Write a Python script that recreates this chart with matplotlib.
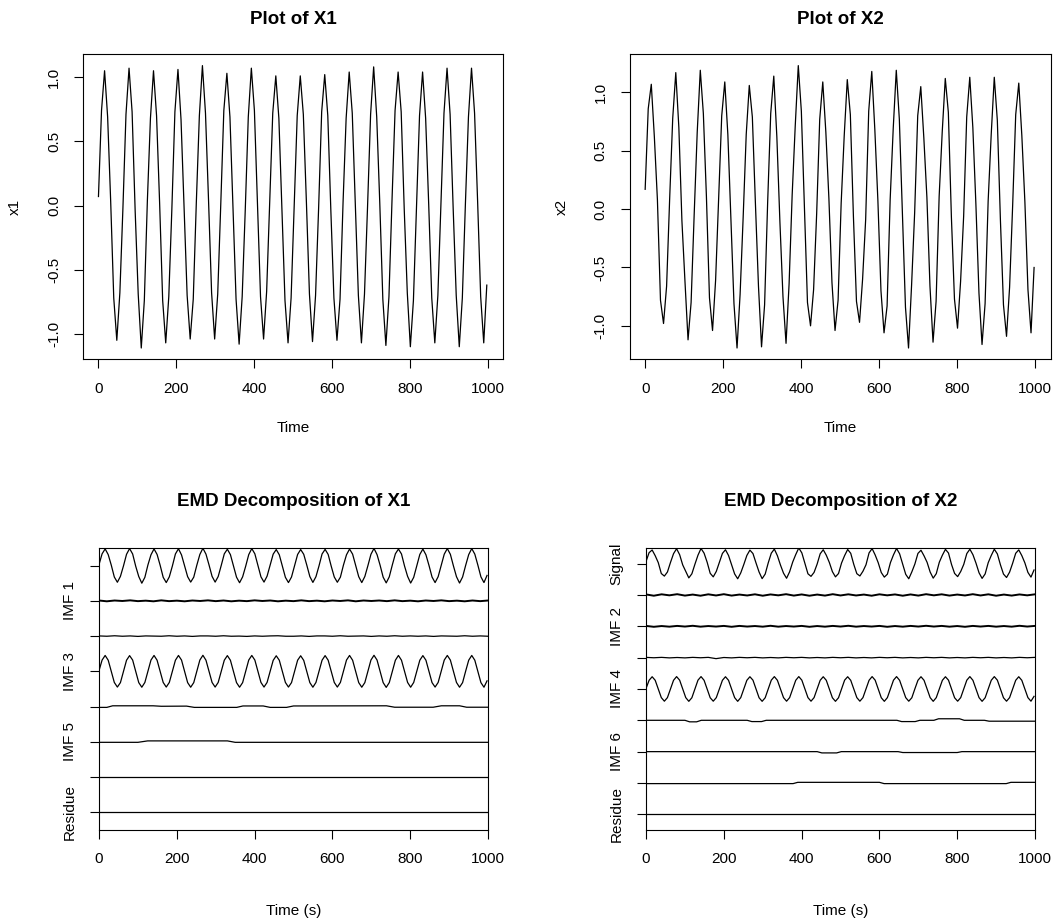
import numpy as np
import matplotlib.pyplot as plt

plt.rcParams['font.family'] = ['Liberation Sans', 'DejaVu Sans']

# ---- data ----
# the two signals, one value every 7.854 time units (8 per cycle)
x1 = [
    0.07, 0.74, 1.05, 0.69, 0.03, -0.72, -1.05, -0.68,
    -0.02, 0.71, 1.07, 0.73, -0.04, -0.69, -1.11, -0.74,
    0.04, 0.68, 1.05, 0.70, 0.02, -0.74, -1.07, -0.71,
    -0.03, 0.73, 1.06, 0.67, -0.01, -0.70, -1.04, -0.73,
    0.02, 0.70, 1.09, 0.72, 0.04, -0.68, -1.04, -0.69,
    0.01, 0.74, 1.03, 0.69, -0.03, -0.73, -1.08, -0.71,
    -0.04, 0.69, 1.07, 0.74, 0.02, -0.71, -1.04, -0.67,
    0.03, 0.72, 1.01, 0.68, -0.02, -0.74, -1.07, -0.72,
    0.00, 0.70, 1.01, 0.71, 0.03, -0.69, -1.06, -0.70,
    -0.02, 0.73, 1.02, 0.70, -0.04, -0.72, -1.05, -0.73,
    0.03, 0.68, 1.04, 0.72, 0.01, -0.70, -1.07, -0.69,
    -0.01, 0.71, 1.08, 0.69, 0.02, -0.73, -1.09, -0.71,
    0.04, 0.74, 1.04, 0.73, -0.03, -0.68, -1.10, -0.74,
    -0.03, 0.70, 1.04, 0.68, 0.01, -0.72, -1.07, -0.70,
    0.02, 0.72, 1.07, 0.71, -0.02, -0.70, -1.10, -0.72,
    0.01, 0.69, 1.07, 0.72, 0.03, -0.71, -1.07, -0.62,
]
x2 = [
    0.17, 0.86, 1.07, 0.62, 0.08, -0.78, -0.98, -0.66,
    0.09, 0.78, 1.17, 0.70, -0.10, -0.62, -1.12, -0.80,
    -0.05, 0.66, 1.19, 0.82, 0.11, -0.76, -1.04, -0.61,
    0.10, 0.80, 1.09, 0.64, -0.08, -0.81, -1.19, -0.73,
    -0.07, 0.64, 1.06, 0.79, 0.05, -0.66, -1.18, -0.82,
    0.06, 0.82, 1.14, 0.62, -0.11, -0.75, -1.15, -0.64,
    0.12, 0.71, 1.23, 0.84, 0.03, -0.80, -1.00, -0.69,
    -0.04, 0.77, 1.09, 0.66, 0.09, -0.63, -1.04, -0.78,
    0.05, 0.63, 1.11, 0.81, -0.06, -0.79, -0.97, -0.60,
    -0.09, 0.84, 1.18, 0.68, 0.07, -0.70, -1.06, -0.83,
    0.08, 0.69, 1.19, 0.77, -0.04, -0.84, -1.19, -0.65,
    -0.03, 0.80, 1.05, 0.61, 0.10, -0.66, -1.14, -0.79,
    0.11, 0.66, 1.12, 0.83, -0.07, -0.77, -1.02, -0.62,
    -0.06, 0.79, 1.13, 0.70, 0.04, -0.72, -1.16, -0.81,
    0.07, 0.64, 1.13, 0.76, -0.09, -0.82, -1.09, -0.67,
    0.03, 0.81, 1.08, 0.63, 0.06, -0.69, -1.06, -0.50,
]

# oscillating IMFs (same sampling as the signals)
imf3_x1 = [
    0.05, 0.71, 1.00, 0.70, 0.01, -0.70, -0.99, -0.71,
    0.00, 0.70, 0.99, 0.71, -0.01, -0.71, -1.00, -0.70,
    0.01, 0.71, 1.00, 0.70, 0.00, -0.70, -0.99, -0.70,
    0.00, 0.70, 1.00, 0.71, 0.01, -0.71, -1.00, -0.71,
    -0.01, 0.71, 1.01, 0.70, 0.00, -0.70, -0.99, -0.70,
    0.00, 0.70, 0.99, 0.70, -0.01, -0.71, -1.00, -0.71,
    0.01, 0.71, 1.00, 0.71, 0.00, -0.70, -0.99, -0.70,
    0.00, 0.69, 0.98, 0.70, 0.01, -0.70, -0.99, -0.71,
    -0.01, 0.70, 0.98, 0.69, 0.00, -0.71, -1.00, -0.70,
    0.00, 0.70, 0.99, 0.70, 0.00, -0.70, -0.99, -0.70,
    0.01, 0.71, 1.00, 0.70, -0.01, -0.71, -1.00, -0.71,
    0.00, 0.71, 1.01, 0.71, 0.00, -0.71, -1.01, -0.71,
    0.00, 0.70, 1.00, 0.70, 0.01, -0.70, -1.00, -0.70,
    -0.01, 0.70, 0.99, 0.70, 0.00, -0.71, -0.99, -0.70,
    0.00, 0.71, 1.00, 0.71, 0.00, -0.70, -1.00, -0.71,
    0.01, 0.70, 1.00, 0.70, 0.00, -0.71, -1.00, -0.60,
]
imf4_x2 = [
    0.04, 0.68, 0.96, 0.68, 0.00, -0.68, -0.96, -0.68,
    0.00, 0.68, 0.97, 0.69, 0.01, -0.68, -0.97, -0.69,
    0.00, 0.69, 0.97, 0.68, 0.00, -0.69, -0.96, -0.68,
    0.01, 0.68, 0.96, 0.68, -0.01, -0.68, -0.97, -0.68,
    0.00, 0.68, 0.96, 0.69, 0.00, -0.69, -0.97, -0.69,
    0.00, 0.69, 0.97, 0.68, 0.01, -0.68, -0.96, -0.68,
    -0.01, 0.68, 0.97, 0.69, 0.00, -0.68, -0.96, -0.68,
    0.00, 0.68, 0.96, 0.68, 0.00, -0.69, -0.97, -0.69,
    0.01, 0.69, 0.96, 0.68, 0.00, -0.68, -0.96, -0.68,
    0.00, 0.68, 0.97, 0.69, -0.01, -0.69, -0.97, -0.68,
    0.00, 0.69, 0.97, 0.68, 0.00, -0.68, -0.96, -0.69,
    0.01, 0.68, 0.96, 0.68, 0.00, -0.68, -0.97, -0.68,
    0.00, 0.68, 0.96, 0.69, 0.01, -0.69, -0.96, -0.68,
    0.00, 0.69, 0.97, 0.68, 0.00, -0.68, -0.97, -0.69,
    -0.01, 0.68, 0.97, 0.69, 0.00, -0.69, -0.96, -0.68,
    0.00, 0.68, 0.96, 0.68, 0.00, -0.68, -0.96, -0.58,
]

# noise-like IMFs, one value every 20 time units
imf1_x1 = [0.02, -0.03, 0.02, -0.01, 0.03, -0.02, 0.01, -0.03, 0.03, -0.02,
           0.01, -0.03, 0.02, -0.01, 0.03, -0.02, 0.02, -0.03, 0.01, -0.02,
           0.03, -0.01, 0.02, -0.03, 0.01, -0.02, 0.03, -0.02, 0.01, -0.03,
           0.02, -0.01, 0.03, -0.03, 0.02, -0.01, 0.02, -0.02, 0.03, -0.02,
           0.01, -0.03, 0.02, -0.01, 0.03, -0.02, 0.01, -0.03, 0.02, -0.02, 0.02]
imf2_x1 = [0.01, -0.01, 0.02, -0.01, 0.01, -0.02, 0.01, 0.00, -0.01, 0.02,
           -0.01, 0.01, -0.02, 0.01, 0.01, -0.01, 0.02, -0.01, 0.00, -0.02,
           0.01, -0.01, 0.01, 0.02, -0.01, -0.01, 0.01, -0.02, 0.01, 0.01,
           -0.01, 0.02, -0.01, 0.00, 0.01, -0.02, 0.01, -0.01, 0.02, -0.01,
           0.01, -0.01, 0.01, -0.02, 0.01, 0.00, -0.01, 0.02, -0.01, 0.01, -0.01]
imf1_x2 = [0.04, -0.06, 0.05, -0.03, 0.06, -0.05, 0.03, -0.06, 0.05, -0.04,
           0.06, -0.05, 0.03, -0.04, 0.05, -0.06, 0.04, -0.03, 0.06, -0.05,
           0.04, -0.06, 0.03, -0.05, 0.06, -0.04, 0.05, -0.04, 0.03, -0.06,
           0.05, -0.03, 0.04, -0.06, 0.04, -0.05, 0.06, -0.03, 0.05, -0.05,
           0.03, -0.04, 0.06, -0.04, 0.05, -0.06, 0.03, -0.05, 0.04, -0.03, 0.05]
imf2_x2 = [0.03, -0.04, 0.02, -0.03, 0.03, -0.02, 0.04, -0.03, 0.02, -0.02,
           0.03, -0.04, 0.03, -0.02, 0.02, -0.03, 0.04, -0.03, 0.02, -0.02,
           0.03, -0.04, 0.02, -0.03, 0.03, -0.02, 0.04, -0.03, 0.02, -0.02,
           0.03, -0.04, 0.02, -0.03, 0.03, -0.02, 0.04, -0.02, 0.03, -0.03,
           0.02, -0.04, 0.03, -0.02, 0.03, -0.03, 0.02, -0.03, 0.04, -0.02, 0.03]
imf3_x2 = [0.02, -0.01, 0.02, -0.02, 0.01, -0.02, 0.02, -0.01, 0.02, -0.08,
           0.01, -0.02, 0.02, -0.01, 0.02, -0.02, 0.01, -0.02, 0.02, -0.01,
           0.02, -0.02, 0.01, -0.02, 0.02, -0.01, 0.02, -0.02, 0.01, -0.02,
           0.02, -0.01, 0.02, -0.02, 0.01, -0.02, 0.02, -0.01, 0.02, -0.02,
           0.01, -0.02, 0.02, -0.01, 0.02, -0.02, 0.01, -0.02, 0.02, -0.01, 0.02]

# slow IMFs and residues as (time, value) breakpoints
imf4_x1_t = [0, 20, 35, 139, 160, 225, 245, 294, 354, 370, 422, 440, 482, 500,
             739, 760, 859, 880, 927, 945, 1000]
imf4_x1_v = [-0.05, -0.05, 0.05, 0.05, 0.02, 0.03, -0.05, -0.05, -0.05, 0.04,
             0.04, -0.05, -0.05, 0.04, 0.05, -0.04, -0.04, 0.05, 0.05, -0.04, -0.04]
imf5_x1_t = [0, 100, 125, 330, 350, 1000]
imf5_x1_v = [-0.03, -0.03, 0.06, 0.06, -0.03, -0.03]
imf6_x1_t = [0, 1000]
imf6_x1_v = [0.0, 0.0]
res_x1_t = [0, 1000]
res_x1_v = [0.0, 0.0]

imf5_x2_t = [0, 100, 112, 130, 142, 260, 272, 297, 309, 645, 657, 692, 704,
             740, 752, 806, 818, 870, 882, 1000]
imf5_x2_v = [0.0, 0.0, -0.12, -0.12, 0.0, 0.0, -0.10, -0.10, 0.0, 0.0, -0.10,
             -0.10, 0.0, 0.0, 0.12, 0.12, 0.0, 0.0, -0.07, -0.07]
imf6_x2_t = [0, 440, 452, 490, 502, 648, 660, 800, 812, 1000]
imf6_x2_v = [0.0, 0.0, -0.10, -0.10, 0.0, 0.0, -0.07, -0.07, 0.0, 0.0]
imf7_x2_t = [0, 378, 390, 600, 612, 926, 938, 1000]
imf7_x2_v = [-0.05, -0.05, 0.05, 0.05, -0.05, -0.05, 0.05, 0.05]
res_x2_t = [0, 1000]
res_x2_v = [0.0, 0.0]

labels_x1 = ['Signal', 'IMF 1', 'IMF 2', 'IMF 3', 'IMF 4', 'IMF 5', 'IMF 6', 'Residue']
labels_x2 = ['Signal', 'IMF 1', 'IMF 2', 'IMF 3', 'IMF 4', 'IMF 5', 'IMF 6', 'IMF 7', 'Residue']

# sampling grids
t_wave = np.arange(len(x1)) * 7.854
t_noise = np.linspace(0, 1000, len(imf1_x1))

TICK = 11
LW = 0.9


def style_axes(ax):
    for s in ax.spines.values():
        s.set_linewidth(0.8)
        s.set_color('black')
    ax.tick_params(direction='out', length=6.5, width=0.8, pad=9.5,
                   labelsize=TICK, colors='black')
    ax.set_xticks([0, 200, 400, 600, 800, 1000])
    ax.set_xticklabels(['0', '200', '400', '600', '800', '1000'])


def signal_plot(ax, y, title, ylab):
    y = np.asarray(y)
    ax.plot(t_wave, y, color='black', lw=LW)
    r = y.max() - y.min()
    ax.set_ylim(y.min() - 0.04 * r, y.max() + 0.04 * r)
    ax.set_xlim(1 - 0.04 * 999, 1000 + 0.04 * 999)
    style_axes(ax)
    yt = [-1.0, -0.5, 0.0, 0.5, 1.0]
    ax.set_yticks(yt)
    ax.set_yticklabels(['%.1f' % v for v in yt], rotation=90, va='center')
    ax.set_title(title, fontsize=13.5, fontweight='bold', pad=22)
    ax.set_xlabel('Time', fontsize=TICK, labelpad=18)
    ax.set_ylabel(ylab, fontsize=TICK, labelpad=18)


def emd_plot(ax, rows, labels, title, noisy):
    n = len(rows)
    m = np.abs(np.asarray(rows[0][1])).max()
    centers = [(n - 1 - k) * 2 * m + m for k in range(n)]
    for k, ((t, v), c) in enumerate(zip(rows, centers)):
        ax.plot(t, np.asarray(v) + c, color='black', lw=1.4 if k in noisy else LW)
    ax.set_xlim(0, 1000)
    ax.set_ylim(0, 2 * m * n)
    style_axes(ax)
    ax.set_yticks(centers)
    # R drops every other label when they would overlap (counted from the bottom)
    shown = [lab if (n - 1 - k) % 2 == 0 else '' for k, lab in enumerate(labels)]
    ax.set_yticklabels(shown, rotation=90, va='center')
    ax.set_title(title, fontsize=13.5, fontweight='bold', pad=30)
    ax.set_xlabel('Time (s)', fontsize=TICK, labelpad=27)


fig = plt.figure(figsize=(10.57, 9.22), dpi=100)
ax1 = fig.add_axes([0.0788, 0.6103, 0.3974, 0.3308])
ax2 = fig.add_axes([0.5960, 0.6103, 0.3980, 0.3308])
ax3 = fig.add_axes([0.0937, 0.0998, 0.3680, 0.3059])
ax4 = fig.add_axes([0.6112, 0.0998, 0.3680, 0.3059])

signal_plot(ax1, x1, 'Plot of X1', 'x1')
signal_plot(ax2, x2, 'Plot of X2', 'x2')

rows_x1 = [(t_wave, x1), (t_noise, imf1_x1), (t_noise, imf2_x1), (t_wave, imf3_x1),
           (imf4_x1_t, imf4_x1_v), (imf5_x1_t, imf5_x1_v), (imf6_x1_t, imf6_x1_v),
           (res_x1_t, res_x1_v)]
rows_x2 = [(t_wave, x2), (t_noise, imf1_x2), (t_noise, imf2_x2), (t_noise, imf3_x2),
           (t_wave, imf4_x2), (imf5_x2_t, imf5_x2_v), (imf6_x2_t, imf6_x2_v),
           (imf7_x2_t, imf7_x2_v), (res_x2_t, res_x2_v)]
emd_plot(ax3, rows_x1, labels_x1, 'EMD Decomposition of X1', noisy=[1])
emd_plot(ax4, rows_x2, labels_x2, 'EMD Decomposition of X2', noisy=[1, 2])

fig.savefig('out.png', dpi=100)
